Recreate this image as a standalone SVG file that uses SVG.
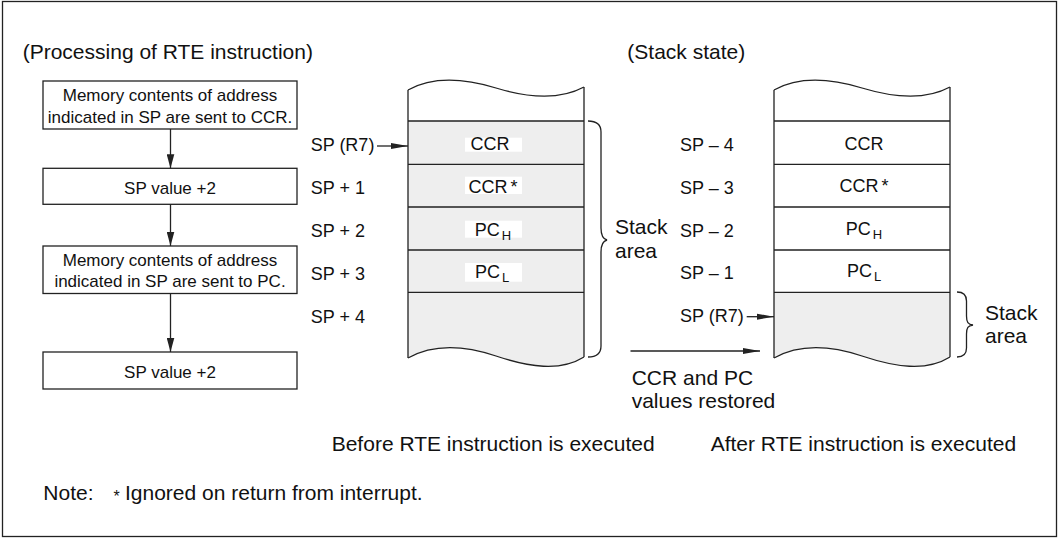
<svg xmlns="http://www.w3.org/2000/svg" width="1059" height="539" viewBox="0 0 1059 539">
<style>
text{font-family:"Liberation Sans",Arial,sans-serif;fill:#111}
.t21{font-size:21px}
.box{font-size:17px;text-anchor:middle}
.lbl{font-size:18px}
.cell{font-size:18px;text-anchor:middle}
.sub{font-size:13px}
.ln{stroke:#222;stroke-width:1.3;fill:none}
.fb{fill:#fff;stroke:#222;stroke-width:1.3}
</style>
<defs>
<marker id="ah" markerUnits="userSpaceOnUse" markerWidth="14" markerHeight="8" viewBox="0 0 14 8" refX="14" refY="4" orient="auto"><path d="M0,0.2 L14,4 L0,7.8 Z" fill="#222"/></marker>
<marker id="ah2" markerUnits="userSpaceOnUse" markerWidth="17" markerHeight="7" viewBox="0 0 17 7" refX="17" refY="3.5" orient="auto"><path d="M0,0.5 L17,3.5 L0,6.5 Z" fill="#222"/></marker>
</defs>
<rect x="0" y="0" width="1059" height="539" fill="#fff"/>
<rect x="2.5" y="1.5" width="1054" height="535" fill="none" stroke="#222" stroke-width="1.3"/>

<text class="t21" x="22.7" y="59.3">(Processing of RTE instruction)</text>
<text class="t21" x="627.3" y="59.3">(Stack state)</text>

<g id="step1"><rect class="fb" x="43" y="81" width="254" height="48"/>
<text class="box" x="170" y="101">Memory contents of address</text>
<text class="box" x="170" y="122.7">indicated in SP are sent to CCR.</text></g>
<g id="step2"><rect class="fb" x="43" y="168.3" width="254" height="36"/>
<text class="box" x="170" y="193.7">SP value +2</text></g>
<g id="step3"><rect class="fb" x="43" y="246" width="254" height="47.5"/>
<text class="box" x="170" y="266">Memory contents of address</text>
<text class="box" x="170" y="286.7">indicated in SP are sent to PC.</text></g>
<g id="step4"><rect class="fb" x="43" y="352" width="254" height="37"/>
<text class="box" x="170" y="377.7">SP value +2</text></g>

<g id="stack-before">
<path d="M408,121 L584,121 L584,357 C560,372 529,367 496,356 C463,345 433,344 408,358 Z" fill="#eeeeee"/>
<path d="M408,90 C433,76 463,78 496,88 C529,98 560,100 584,87 L584,121 L408,121 Z" fill="#fff"/>
<path class="ln" d="M408,90 C433,76 463,78 496,88 C529,98 560,100 584,87"/>
<path class="ln" d="M408,358 C433,344 463,345 496,356 C529,367 560,372 584,357"/>
<path class="ln" d="M408,90 V358 M584,87 V357 M408,121 H584 M408,164.3 H584 M408,207 H584 M408,250 H584 M408,292.3 H584"/>
<rect x="465" y="137.7" width="57" height="14" fill="#fff"/>
<rect x="465" y="176.7" width="57" height="17.3" fill="#fff"/>
<rect x="465" y="220.7" width="57" height="17" fill="#fff"/>
<rect x="465" y="263" width="57" height="18.7" fill="#fff"/>
<text class="cell" x="490" y="150">CCR</text>
<text class="cell" x="493" y="193">CCR<tspan dx="3">*</tspan></text>
<text class="cell" x="493" y="235.5">PC<tspan class="sub" dx="2" dy="4">H</tspan></text>
<text class="cell" x="492" y="278">PC<tspan class="sub" dx="2" dy="4">L</tspan></text>
</g>

<g id="labels-before">
<text class="lbl" x="310.7" y="151">SP (R7)</text>
<text class="lbl" x="310.7" y="194">SP + 1</text>
<text class="lbl" x="310.7" y="237">SP + 2</text>
<text class="lbl" x="310.7" y="279.5">SP + 3</text>
<text class="lbl" x="310.7" y="322.5">SP + 4</text>
</g>

<g id="brace-before">
<path class="ln" d="M588,121 C596,121 601,124 601,132 L601,228 C601,235 603,239 607,240 C603,241 601,245 601,252 L601,346 C601,354 596,357 588,357"/>
<text class="t21" x="615" y="234.3">Stack</text>
<text class="t21" x="615" y="258.3">area</text>
</g>

<g id="stack-after">
<path d="M774,90 C799,76 829,78 862,88 C895,98 926,100 950,87 L950,292.3 L774,292.3 Z" fill="#fff"/>
<path d="M774,292.3 L950,292.3 L950,357 C926,372 895,367 862,356 C829,345 799,344 774,358 Z" fill="#eeeeee"/>
<path class="ln" d="M774,90 C799,76 829,78 862,88 C895,98 926,100 950,87"/>
<path class="ln" d="M774,358 C799,344 829,345 862,356 C895,367 926,372 950,357"/>
<path class="ln" d="M774,90 V358 M950,87 V357 M774,121 H950 M774,164.3 H950 M774,207 H950 M774,250 H950 M774,292.3 H950"/>
<text class="cell" x="864" y="150">CCR</text>
<text class="cell" x="864" y="192">CCR<tspan dx="3">*</tspan></text>
<text class="cell" x="864" y="234.5">PC<tspan class="sub" dx="2" dy="4">H</tspan></text>
<text class="cell" x="864" y="277">PC<tspan class="sub" dx="2" dy="4">L</tspan></text>
</g>

<g id="labels-after">
<text class="lbl" x="680" y="151">SP – 4</text>
<text class="lbl" x="680" y="194">SP – 3</text>
<text class="lbl" x="680" y="237">SP – 2</text>
<text class="lbl" x="680" y="279">SP – 1</text>
<text class="lbl" x="680" y="322.3">SP (R7)</text>
</g>

<g id="brace-after">
<path class="ln" d="M957,292 C963,292 966.5,295 966.5,301 L966.5,316 C966.5,322 968,324.5 973,325 C968,325.5 966.5,328 966.5,334 L966.5,348 C966.5,354 963,357 957,357"/>
<text class="t21" x="985" y="320">Stack</text>
<text class="t21" x="985" y="343.3">area</text>
</g>

<g id="connectors">
<line class="ln" x1="170.5" y1="129" x2="170.5" y2="168.3" marker-end="url(#ah)"/>
<line class="ln" x1="170.5" y1="204.3" x2="170.5" y2="246" marker-end="url(#ah)"/>
<line class="ln" x1="170.5" y1="293.5" x2="170.5" y2="352" marker-end="url(#ah)"/>
<line class="ln" x1="377" y1="146" x2="408" y2="146" marker-end="url(#ah2)"/>
<line class="ln" x1="746.7" y1="316.7" x2="774" y2="316.7" marker-end="url(#ah2)"/>
<line class="ln" x1="630.5" y1="351" x2="760" y2="351" marker-end="url(#ah2)"/>
</g>

<g id="restore-label">
<text class="t21" x="631.7" y="385">CCR and PC</text>
<text class="t21" x="631.7" y="408.3">values restored</text>
</g>

<text class="t21" x="331.7" y="451">Before RTE instruction is executed</text>
<text class="t21" x="710.7" y="451">After RTE instruction is executed</text>
<text class="t21" x="43.3" y="500">Note:<tspan x="113.5" y="502" font-size="16">*</tspan><tspan x="125" y="500">Ignored on return from interrupt.</tspan></text>
</svg>
